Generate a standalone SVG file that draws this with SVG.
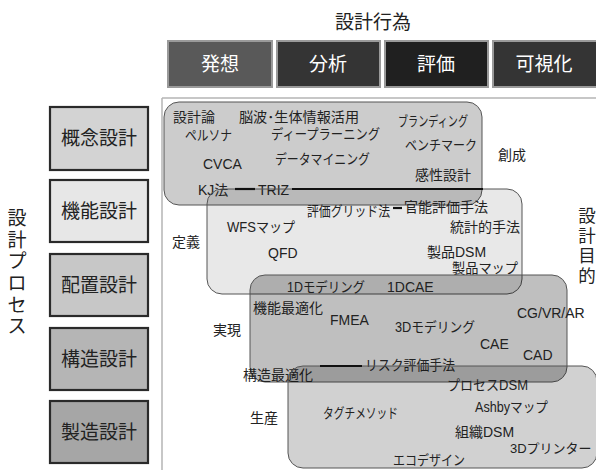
<svg xmlns="http://www.w3.org/2000/svg" width="596" height="470" viewBox="0 0 596 470">
<style>
text{font-family:"Liberation Sans","Noto Sans CJK JP",sans-serif;fill:#222}
.item{font-size:14px}
.title{font-size:19px}
.act{font-size:19px;fill:#fff;text-anchor:middle}
.proc{font-size:19px;text-anchor:middle;fill:#222}
.pbox{stroke:#2a2a2a;stroke-width:2.2}
.abox{stroke:#9a9a9a;stroke-width:2}
.region{fill:#000;stroke:#555;stroke-width:1}
.conn{stroke:#111;stroke-width:2.2}
.axis{stroke:#b5b5b5;stroke-width:1.5;fill:none}
</style>
<rect width="596" height="470" fill="#fff"/>
<g id="axes">
<path class="axis" d="M162 98H596M162 98V470"/>
</g>
<text class="title" x="373" y="29" text-anchor="middle">設計行為</text>
<g id="act-hasso"><rect class="abox" x="168" y="41" width="104" height="46" fill="#595959"/><text class="act" x="220" y="71">発想</text></g>
<g id="act-bunseki"><rect class="abox" x="277" y="41" width="103" height="46" fill="#343434"/><text class="act" x="328" y="71">分析</text></g>
<g id="act-hyoka"><rect class="abox" x="385" y="41" width="103" height="46" fill="#202020"/><text class="act" x="436" y="71">評価</text></g>
<g id="act-kashika"><rect class="abox" x="493" y="41" width="106" height="46" fill="#343434"/><text class="act" x="544" y="71">可視化</text></g>

<g id="proc-label" class="proc">
<text x="17" y="225">設</text><text x="17" y="247">計</text><text x="17" y="268">プ</text><text x="17" y="290">ロ</text><text x="17" y="312">セ</text><text x="17" y="333">ス</text>
</g>
<g id="purpose-label" style="font-size:17.5px;text-anchor:middle">
<text x="587" y="222">設</text><text x="587" y="242">計</text><text x="587" y="262">目</text><text x="587" y="282">的</text>
</g>

<g id="proc-gainen"><rect class="pbox" x="50" y="107" width="98" height="63" fill="#d3d3d3"/><text class="proc" x="99" y="145">概念設計</text></g>
<g id="proc-kino"><rect class="pbox" x="50" y="180" width="98" height="62" fill="#e7e7e7"/><text class="proc" x="99" y="218">機能設計</text></g>
<g id="proc-haichi"><rect class="pbox" x="50" y="254" width="98" height="62" fill="#c7c7c7"/><text class="proc" x="99" y="292">配置設計</text></g>
<g id="proc-kozo"><rect class="pbox" x="50" y="328" width="98" height="62" fill="#b5b5b5"/><text class="proc" x="99" y="366">構造設計</text></g>
<g id="proc-seizo"><rect class="pbox" x="50" y="401" width="98" height="62" fill="#a6a6a6"/><text class="proc" x="99" y="439">製造設計</text></g>

<g id="region-sosei">
<rect class="region" x="164" y="102" width="318" height="103" rx="15" fill-opacity="0.2"/>
<text class="item" x="173" y="122">設計論</text>
<text class="item" x="239" y="122" textLength="120" lengthAdjust="spacingAndGlyphs">脳波･生体情報活用</text>
<text class="item" x="398" y="126" textLength="70" lengthAdjust="spacingAndGlyphs">ブランディング</text>
<text class="item" x="185" y="140" textLength="47" lengthAdjust="spacingAndGlyphs">ペルソナ</text>
<text class="item" x="271" y="139" textLength="109" lengthAdjust="spacingAndGlyphs">ディープラーニング</text>
<text class="item" x="405" y="150" textLength="72" lengthAdjust="spacingAndGlyphs">ベンチマーク</text>
<text class="item" x="203" y="169">CVCA</text>
<text class="item" x="275" y="164" textLength="95" lengthAdjust="spacingAndGlyphs">データマイニング</text>
<text class="item" x="415" y="180">感性設計</text>
<text class="item" x="198" y="195">KJ法</text>
<text class="item" x="258" y="195">TRIZ</text>
<text class="item" x="498" y="160">創成</text>
</g>

<g id="region-teigi">
<rect class="region" x="207" y="189" width="315" height="105" rx="15" fill-opacity="0.09"/>
<text class="item" x="307" y="216" textLength="83" lengthAdjust="spacingAndGlyphs">評価グリッド法</text>
<text class="item" x="404" y="212">官能評価手法</text>
<text class="item" x="227" y="232" textLength="68" lengthAdjust="spacingAndGlyphs">WFSマップ</text>
<text class="item" x="450" y="232">統計的手法</text>
<text class="item" x="172" y="247">定義</text>
<text class="item" x="268" y="258">QFD</text>
<text class="item" x="427" y="257">製品DSM</text>
<text class="item" x="452" y="273" textLength="66" lengthAdjust="spacingAndGlyphs">製品マップ</text>
</g>

<g id="region-jitsugen">
<rect class="region" x="250" y="275" width="317" height="107" rx="15" fill-opacity="0.25"/>
<text class="item" x="287" y="292" textLength="78" lengthAdjust="spacingAndGlyphs">1Dモデリング</text>
<text class="item" x="387" y="292">1DCAE</text>
<text class="item" x="253" y="313">機能最適化</text>
<text class="item" x="330" y="325">FMEA</text>
<text class="item" x="395" y="332" textLength="80" lengthAdjust="spacingAndGlyphs">3Dモデリング</text>
<text class="item" x="517" y="318">CG/VR/AR</text>
<text class="item" x="480" y="349">CAE</text>
<text class="item" x="523" y="360">CAD</text>
<text class="item" x="213" y="335">実現</text>
<text class="item" x="243" y="380">構造最適化</text>
<text class="item" x="365" y="370" textLength="90" lengthAdjust="spacingAndGlyphs">リスク評価手法</text>
</g>

<g id="region-seisan">
<rect class="region" x="288" y="366" width="309" height="102" rx="15" fill-opacity="0.18"/>
<text class="item" x="447" y="390" textLength="81" lengthAdjust="spacingAndGlyphs">プロセスDSM</text>
<text class="item" x="475" y="412" textLength="73" lengthAdjust="spacingAndGlyphs">Ashbyマップ</text>
<text class="item" x="323" y="418" textLength="75" lengthAdjust="spacingAndGlyphs">タグチメソッド</text>
<text class="item" x="455" y="437">組織DSM</text>
<text class="item" x="510" y="453" style="font-size:13px">3Dプリンター</text>
<text class="item" x="393" y="465" textLength="72" lengthAdjust="spacingAndGlyphs">エコデザイン</text>
<text class="item" x="250" y="423">生産</text>
</g>

<g id="connectors">
<line class="conn" x1="235" y1="189" x2="255" y2="189"/>
<line class="conn" x1="292" y1="189" x2="483" y2="189"/>
<line class="conn" x1="393" y1="208" x2="402" y2="208"/>
<line class="conn" x1="320" y1="366" x2="362" y2="366"/>
</g>
</svg>
